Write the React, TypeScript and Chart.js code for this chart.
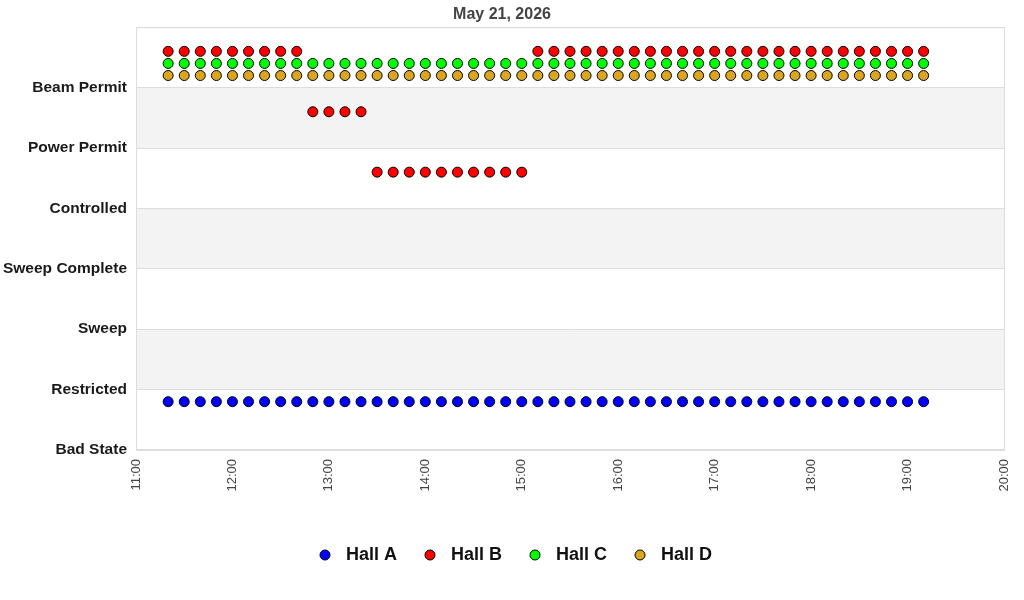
import { useRef, useEffect } from 'react'
import { Chart, registerables } from 'chart.js'

Chart.register(...registerables)

const title = 'May 21, 2026'

const stateLabels = ['Bad State', 'Restricted', 'Sweep', 'Sweep Complete', 'Controlled', 'Power Permit', 'Beam Permit', '']

// shaded bands between these state levels
const bands: [number, number][] = [[1, 2], [3, 4], [5, 6]]

const times = [
  '11:20', '11:30', '11:40', '11:50', '12:00', '12:10', '12:20', '12:30', '12:40', '12:50',
  '13:00', '13:10', '13:20', '13:30', '13:40', '13:50', '14:00', '14:10', '14:20', '14:30',
  '14:40', '14:50', '15:00', '15:10', '15:20', '15:30', '15:40', '15:50', '16:00', '16:10',
  '16:20', '16:30', '16:40', '16:50', '17:00', '17:10', '17:20', '17:30', '17:40', '17:50',
  '18:00', '18:10', '18:20', '18:30', '18:40', '18:50', '19:00', '19:10',
]

const hallNames = ['Hall A', 'Hall B', 'Hall C', 'Hall D']
const hallColors = ['#0000ff', '#ff0000', '#00ff00', '#daa520']

// state index per time (0 = Bad State ... 6 = Beam Permit)
const hallA = [
  0, 0, 0, 0, 0, 0, 0, 0, 0, 0, 0, 0, 0, 0, 0, 0, 0, 0, 0, 0, 0, 0, 0, 0,
  0, 0, 0, 0, 0, 0, 0, 0, 0, 0, 0, 0, 0, 0, 0, 0, 0, 0, 0, 0, 0, 0, 0, 0,
]
const hallB = [
  6, 6, 6, 6, 6, 6, 6, 6, 6, 5, 5, 5, 5, 4, 4, 4, 4, 4, 4, 4, 4, 4, 4, 6,
  6, 6, 6, 6, 6, 6, 6, 6, 6, 6, 6, 6, 6, 6, 6, 6, 6, 6, 6, 6, 6, 6, 6, 6,
]
const hallC = [
  6, 6, 6, 6, 6, 6, 6, 6, 6, 6, 6, 6, 6, 6, 6, 6, 6, 6, 6, 6, 6, 6, 6, 6,
  6, 6, 6, 6, 6, 6, 6, 6, 6, 6, 6, 6, 6, 6, 6, 6, 6, 6, 6, 6, 6, 6, 6, 6,
]
const hallD = [
  6, 6, 6, 6, 6, 6, 6, 6, 6, 6, 6, 6, 6, 6, 6, 6, 6, 6, 6, 6, 6, 6, 6, 6,
  6, 6, 6, 6, 6, 6, 6, 6, 6, 6, 6, 6, 6, 6, 6, 6, 6, 6, 6, 6, 6, 6, 6, 6,
]
const hallStates = [hallA, hallB, hallC, hallD]

// each hall drawn a little above its state line so they don't overlap
const hallOffsets = [0.8, 0.6, 0.4, 0.2]

const FONT = "'Liberation Sans', Arial, sans-serif"

const toMinutes = (t: string) => {
  const [h, m] = t.split(':').map(Number)
  return h * 60 + m
}

const fmtTime = (v: number) => {
  const h = Math.floor(v / 60)
  const m = v % 60
  return `${h}:${String(m).padStart(2, '0')}`
}

// legend marker: circle sitting at the left of a wider box, leaves a gap before the text
const legendMarker = (fill: string) => {
  const c = document.createElement('canvas')
  c.width = 19
  c.height = 12
  const ctx = c.getContext('2d')!
  ctx.beginPath()
  ctx.arc(6, 6, 5, 0, Math.PI * 2)
  ctx.fillStyle = fill
  ctx.fill()
  ctx.lineWidth = 1
  ctx.strokeStyle = '#000'
  ctx.stroke()
  return c
}

const bandsPlugin = {
  id: 'bands',
  afterLayout(chart: Chart) {
    // nudge the legend row a bit to the right
    const lg = chart.legend as any
    if (lg) {
      lg.left += 14
      lg.right += 14
    }
  },
  beforeDraw(chart: Chart) {
    const { ctx, chartArea } = chart
    const y = chart.scales.y
    ctx.save()
    ctx.fillStyle = '#f3f3f3'
    for (const [lo, hi] of bands) {
      const top = y.getPixelForValue(hi)
      const bottom = y.getPixelForValue(lo)
      ctx.fillRect(chartArea.left, top, chartArea.right - chartArea.left, bottom - top)
    }
    ctx.restore()
  },
  beforeDatasetsDraw(chart: Chart) {
    const { ctx, chartArea } = chart
    ctx.save()
    ctx.strokeStyle = '#dddddd'
    ctx.lineWidth = 1
    ctx.strokeRect(chartArea.left + 0.5, chartArea.top + 0.5, chartArea.right - chartArea.left, chartArea.bottom - chartArea.top - 1)
    ctx.restore()
  },
}

export default function App() {
  const canvasRef = useRef<HTMLCanvasElement>(null)
  const chartRef = useRef<Chart | null>(null)

  useEffect(() => {
    document.body.style.margin = '0'
    if (!canvasRef.current) return
    chartRef.current?.destroy()

    const xs = times.map(toMinutes)

    chartRef.current = new Chart(canvasRef.current, {
      type: 'scatter',
      data: {
        datasets: hallNames.map((name, i) => ({
          label: name,
          data: hallStates[i].map((s, k) => ({ x: xs[k], y: s + hallOffsets[i] })),
          backgroundColor: hallColors[i],
          borderColor: '#000000',
          borderWidth: 1,
          pointStyle: 'circle',
          pointRadius: 5,
        })),
      },
      options: {
        responsive: true,
        maintainAspectRatio: false,
        animation: false,
        layout: { padding: { left: 0, right: 20, top: 0, bottom: 26 } },
        plugins: {
          title: {
            display: true,
            text: title,
            color: '#444444',
            font: { family: FONT, size: 16, weight: 'bold' },
            padding: { top: 5, bottom: 3 },
          },
          legend: {
            position: 'bottom',
            labels: {
              usePointStyle: true,
              boxWidth: 17,
              boxHeight: 7,
              padding: 28,
              color: '#111111',
              font: { family: FONT, size: 18, weight: 'bold' },
              generateLabels: (chart) =>
                Chart.defaults.plugins.legend.labels.generateLabels(chart).map((item) => ({
                  ...item,
                  pointStyle: legendMarker(hallColors[item.datasetIndex ?? 0]),
                })),
            },
          },
          tooltip: { enabled: false },
        },
        scales: {
          x: {
            type: 'linear',
            min: toMinutes('11:00'),
            max: toMinutes('20:00'),
            grid: { display: false, drawTicks: false },
            border: { color: '#dddddd' },
            ticks: {
              stepSize: 60,
              minRotation: 90,
              maxRotation: 90,
              padding: 9,
              color: '#444444',
              font: { family: FONT, size: 13 },
              callback: (v) => fmtTime(Number(v)),
            },
            afterFit: (scale) => {
              scale.height = 68
              scale.paddingLeft = 0
              scale.paddingRight = 0
            },
          },
          y: {
            type: 'linear',
            min: 0,
            max: 7,
            grid: { color: '#dddddd', drawTicks: false },
            border: { color: '#dddddd' },
            ticks: {
              stepSize: 1,
              padding: 9,
              color: '#1a1a1a',
              font: { family: FONT, size: 15.5, weight: 'bold' },
              callback: (v) => stateLabels[Number(v)] ?? '',
            },
            afterFit: (scale) => { scale.width = 136 },
          },
        },
      },
      plugins: [bandsPlugin],
    })

    return () => { chartRef.current?.destroy() }
  }, [])

  return (
    <div style={{ width: 1024, height: 600, position: 'relative' }}>
      <canvas ref={canvasRef} />
    </div>
  )
}
